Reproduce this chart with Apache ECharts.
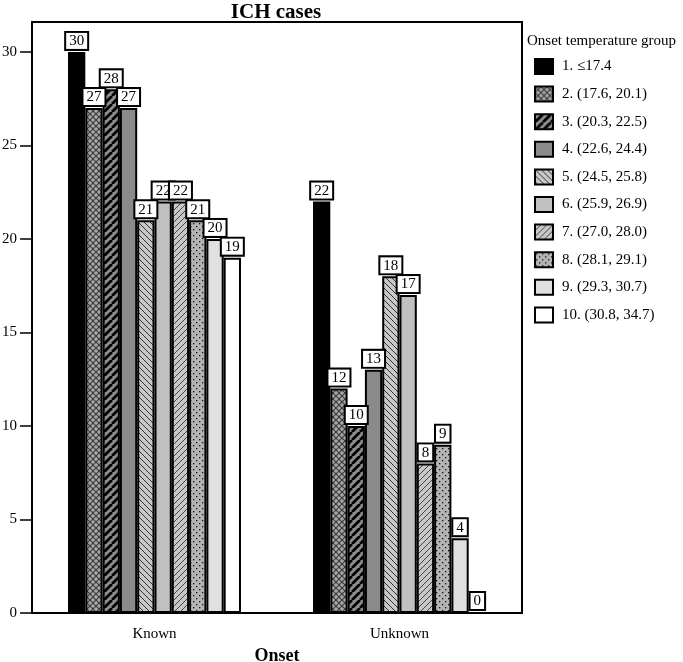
<!DOCTYPE html>
<html>
<head>
<meta charset="utf-8">
<script src="https://cdn.jsdelivr.net/npm/echarts@6/dist/echarts.min.js"></script>
<style>html,body{margin:0;padding:0;background:#fff}#c{width:683px;height:662px}</style>
</head>
<body>
<div id="c"></div>
<script>
var categories = ['Known', 'Unknown'];
var groupNames = ['1. \u226417.4', '2. (17.6, 20.1)', '3. (20.3, 22.5)', '4. (22.6, 24.4)', '5. (24.5, 25.8)',
  '6. (25.9, 26.9)', '7. (27.0, 28.0)', '8. (28.1, 29.1)', '9. (29.3, 30.7)', '10. (30.8, 34.7)'];
var knownValues = [30, 27, 28, 27, 21, 22, 22, 21, 20, 19];
var unknownValues = [22, 12, 10, 13, 18, 17, 8, 9, 4, 0];
var yTicks = [0, 5, 10, 15, 20, 25, 30];

var FONT = '"Liberation Serif", "DejaVu Serif", serif';

function tile(size, bg, draw) {
  var c = document.createElement('canvas');
  c.width = size; c.height = size;
  var ctx = c.getContext('2d');
  ctx.fillStyle = bg; ctx.fillRect(0, 0, size, size);
  draw(ctx, size);
  return { image: c, repeat: 'repeat' };
}
function rising(ctx, s, w, col) {
  ctx.strokeStyle = col; ctx.lineWidth = w; ctx.beginPath();
  for (var k = -1; k <= 1; k++) { ctx.moveTo(k * s, s); ctx.lineTo(k * s + s, 0); }
  ctx.stroke();
}
function falling(ctx, s, w, col) {
  ctx.strokeStyle = col; ctx.lineWidth = w; ctx.beginPath();
  for (var k = -1; k <= 1; k++) { ctx.moveTo(k * s, 0); ctx.lineTo(k * s + s, s); }
  ctx.stroke();
}

var fills = [
  '#000000',
  tile(6, '#a8a8a8', function (ctx, s) { rising(ctx, s, 1.2, '#3c3c3c'); falling(ctx, s, 1.2, '#3c3c3c'); }),
  tile(8, '#8c8c8c', function (ctx, s) { rising(ctx, s, 2.8, '#000'); }),
  '#8a8a8a',
  tile(6, '#c8c8c8', function (ctx, s) { falling(ctx, s, 1, '#333'); }),
  '#c0c0c0',
  tile(6, '#c8c8c8', function (ctx, s) { rising(ctx, s, 1, '#444'); }),
  tile(6, '#b4b4b4', function (ctx, s) { ctx.fillStyle = '#111'; ctx.fillRect(1, 1, 1.3, 1.3); ctx.fillRect(4, 4, 1.3, 1.3); }),
  '#e0e0e0',
  '#ffffff'
];

var series = groupNames.map(function (name, i) {
  return {
    name: name,
    type: 'bar',
    barGap: '0%',
    barCategoryGap: '29.4%',
    data: [knownValues[i], unknownValues[i]],
    itemStyle: { color: fills[i], borderColor: '#000', borderWidth: 2 },
    label: {
      show: true, position: 'top', distance: 3,
      fontFamily: FONT, fontSize: 15, color: '#000',
      backgroundColor: '#fff', borderColor: '#000', borderWidth: 2,
      padding: [1, 3, 0, 3]
    }
  };
});

var chart = echarts.init(document.getElementById('c'));
chart.setOption({
  animation: false,
  backgroundColor: '#fff',
  title: [
    { text: 'ICH cases', left: 276, top: 2, padding: 0, textAlign: 'center',
      textStyle: { fontFamily: FONT, fontSize: 21, fontWeight: 'bold', color: '#000' } },
    { text: 'Onset temperature group', left: 522, top: 29,
      textStyle: { fontFamily: FONT, fontSize: 15, fontWeight: 'normal', color: '#000' } }
  ],
  legend: {
    orient: 'vertical', left: 529, top: 53,
    itemWidth: 18, itemHeight: 15, itemGap: 10.6,
    icon: 'rect',
    textStyle: { fontFamily: FONT, fontSize: 15, color: '#000', padding: [0, 0, 0, 4] },
    selectedMode: false
  },
  grid: {
    left: 32, right: 161, top: 22, bottom: 49,
    outerBoundsMode: 'none', containLabel: false,
    show: true, borderColor: '#000', borderWidth: 2, backgroundColor: 'transparent'
  },
  xAxis: {
    type: 'category', data: categories,
    name: 'Onset', nameLocation: 'middle', nameGap: 33,
    nameTextStyle: { fontFamily: FONT, fontSize: 18, fontWeight: 'bold', color: '#000' },
    axisLine: { lineStyle: { color: '#000', width: 2 } },
    axisTick: { alignWithLabel: true, length: 11, lineStyle: { color: '#000', width: 2 } },
    axisLabel: { fontFamily: FONT, fontSize: 15, color: '#000', margin: 14 }
  },
  yAxis: {
    type: 'value', min: 0, max: 31.6,
    axisLine: { show: true, lineStyle: { color: '#000', width: 2 } },
    axisTick: { show: true, length: 12, customValues: yTicks, lineStyle: { color: '#000', width: 1.5 } },
    axisLabel: { fontFamily: FONT, fontSize: 15, color: '#000', margin: 15, customValues: yTicks },
    splitLine: { show: false }
  },
  series: series
});
</script>
</body>
</html>
